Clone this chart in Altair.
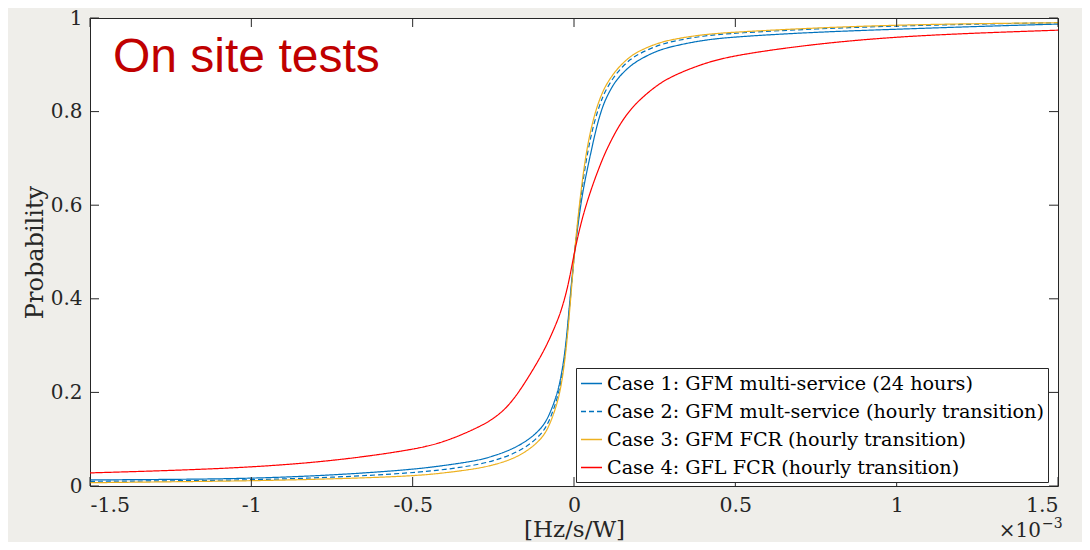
import altair as alt
import pandas as pd

# ---- data (x in units of 1e-3 Hz/s/W) ----
x_vals = [-1.5, -1.25, -1.0, -0.75, -0.5, -0.4, -0.3, -0.25, -0.2, -0.15, -0.1, -0.075, -0.05,
          -0.0375, -0.025, -0.0125, 0.0, 0.0125, 0.025, 0.0375, 0.05, 0.0625, 0.075, 0.0875, 0.1,
          0.125, 0.15, 0.175, 0.2, 0.25, 0.3, 0.4, 0.5, 0.75, 1.0, 1.25, 1.5]
case1 = [0.013, 0.014, 0.016, 0.023, 0.035, 0.044, 0.054, 0.064, 0.076, 0.094, 0.122, 0.153, 0.20,
         0.243, 0.30, 0.40, 0.49, 0.56, 0.62, 0.665, 0.705, 0.745, 0.78, 0.808, 0.83,
         0.862, 0.882, 0.898, 0.91, 0.928, 0.939, 0.953, 0.96, 0.97, 0.976, 0.982, 0.987]
case2 = [0.010, 0.011, 0.013, 0.018, 0.028, 0.035, 0.045, 0.054, 0.065, 0.082, 0.11, 0.14, 0.19,
         0.232, 0.292, 0.39, 0.49, 0.568, 0.638, 0.695, 0.74, 0.776, 0.805, 0.829, 0.848,
         0.876, 0.896, 0.912, 0.923, 0.939, 0.95, 0.962, 0.968, 0.977, 0.983, 0.987, 0.99]
case3 = [0.007, 0.009, 0.011, 0.015, 0.021, 0.028, 0.037, 0.045, 0.055, 0.072, 0.10, 0.13, 0.18,
         0.222, 0.285, 0.38, 0.49, 0.575, 0.65, 0.71, 0.755, 0.79, 0.818, 0.84, 0.858,
         0.884, 0.903, 0.918, 0.929, 0.944, 0.954, 0.965, 0.97, 0.979, 0.985, 0.988, 0.99]
case4 = [0.028, 0.033, 0.040, 0.053, 0.077, 0.094, 0.124, 0.143, 0.172, 0.222, 0.28, 0.315, 0.355,
         0.38, 0.41, 0.448, 0.495, 0.535, 0.57, 0.60, 0.627, 0.652, 0.675, 0.697, 0.717,
         0.752, 0.781, 0.804, 0.823, 0.853, 0.875, 0.903, 0.921, 0.945, 0.96, 0.968, 0.974]

series_names = [
    "Case 1: GFM multi-service (24 hours)",
    "Case 2: GFM mult-service (hourly transition)",
    "Case 3: GFM FCR (hourly transition)",
    "Case 4: GFL FCR (hourly transition)",
]
series_colors = ["#0072BD", "#0072BD", "#EDB120", "#FF0000"]
series_dash = [[1, 0], [5, 3], [1, 0], [1, 0]]

x_ticks = [-1.5, -1, -0.5, 0, 0.5, 1, 1.5]
y_ticks = [0, 0.2, 0.4, 0.6, 0.8, 1]

rows = []
for name, ys in zip(series_names, [case1, case2, case3, case4]):
    for xv, yv in zip(x_vals, ys):
        rows.append({"x": xv, "p": yv, "case": name})
df = pd.DataFrame(rows)

W, H = 968, 468
AX = "#262626"
SERIF = "DejaVu Serif"

xscale = alt.Scale(domain=[-1.5, 1.5], nice=False, zero=False)
yscale = alt.Scale(domain=[0, 1], nice=False, zero=False)

x_axis = alt.Axis(values=x_ticks, ticks=False, domain=False, grid=False,
                  labelExpr="datum.value + ''", labelFont=SERIF, labelFontSize=20.5,
                  labelColor=AX, labelPadding=9,
                  title="[Hz/s/W]", titleFont=SERIF, titleFontSize=23,
                  titleFontWeight="normal", titleColor=AX,
                  titleY=50, titleBaseline="alphabetic")
y_axis = alt.Axis(values=y_ticks, ticks=False, domain=False, grid=False,
                  labelExpr="datum.value + ''", labelFont=SERIF, labelFontSize=20,
                  labelColor=AX, labelPadding=8,
                  title="Probability", titleFont=SERIF, titleFontSize=24,
                  titleFontWeight="normal", titleColor=AX,
                  titleX=-48, titleY=234, titleAlign="center",
                  titleBaseline="alphabetic", titleAngle=270)

leg = alt.Legend(orient="none", legendX=486, legendY=350, title=None,
                 symbolType="stroke", symbolSize=441, symbolStrokeWidth=1.3,
                 labelFont=SERIF, labelFontSize=19.2, labelColor="black",
                 labelLimit=700, labelOffset=4, rowPadding=6, padding=4,
                 fillColor="white", strokeColor=AX)

lines = alt.Chart(df).mark_line(strokeWidth=1.2, interpolate="basis", clip=True).encode(
    x=alt.X("x:Q", scale=xscale, axis=x_axis),
    y=alt.Y("p:Q", scale=yscale, axis=y_axis),
    color=alt.Color("case:N", scale=alt.Scale(domain=series_names, range=series_colors), legend=leg),
    strokeDash=alt.StrokeDash("case:N", scale=alt.Scale(domain=series_names, range=series_dash),
                              legend=leg),
    detail="case:N",
)

xt = pd.DataFrame({"t": x_ticks})
yt = pd.DataFrame({"t": y_ticks})
tick_len = 9
bottom_ticks = alt.Chart(xt).mark_rule(color=AX, strokeWidth=1).encode(
    x=alt.X("t:Q", scale=xscale, axis=x_axis), y=alt.value(H), y2=alt.value(H - tick_len))
top_ticks = alt.Chart(xt).mark_rule(color=AX, strokeWidth=1).encode(
    x=alt.X("t:Q", scale=xscale, axis=x_axis), y=alt.value(0), y2=alt.value(tick_len))
left_ticks = alt.Chart(yt).mark_rule(color=AX, strokeWidth=1).encode(
    y=alt.Y("t:Q", scale=yscale, axis=y_axis), x=alt.value(0), x2=alt.value(tick_len))
right_ticks = alt.Chart(yt).mark_rule(color=AX, strokeWidth=1).encode(
    y=alt.Y("t:Q", scale=yscale, axis=y_axis), x=alt.value(W), x2=alt.value(W - tick_len))

title_txt = alt.Chart(pd.DataFrame({"t": ["On site tests"]})).mark_text(
    font="Liberation Sans", fontSize=48, color="#C00000", align="left", baseline="alphabetic"
).encode(x=alt.value(23), y=alt.value(54), text="t:N")

exp_base = alt.Chart(pd.DataFrame({"t": ["\u00d710"]})).mark_text(
    font=SERIF, fontSize=20, color=AX, align="right", baseline="alphabetic"
).encode(x=alt.value(951), y=alt.value(519), text="t:N")
exp_sup = alt.Chart(pd.DataFrame({"t": ["\u22123"]})).mark_text(
    font=SERIF, fontSize=14, color=AX, align="left", baseline="alphabetic"
).encode(x=alt.value(952), y=alt.value(510), text="t:N")

chart = alt.layer(
    lines, bottom_ticks, top_ticks, left_ticks, right_ticks, title_txt, exp_base, exp_sup
).properties(
    width=W, height=H,
    autosize=alt.AutoSizeParams(type="none"),
    padding={"left": 82, "top": 10, "right": 24, "bottom": 56},
).configure(
    background="#efeeea",
).configure_view(
    fill="white", stroke=AX, strokeWidth=1,
)

chart.save("out.html", embed_options={"renderer": "svg", "actions": False})
